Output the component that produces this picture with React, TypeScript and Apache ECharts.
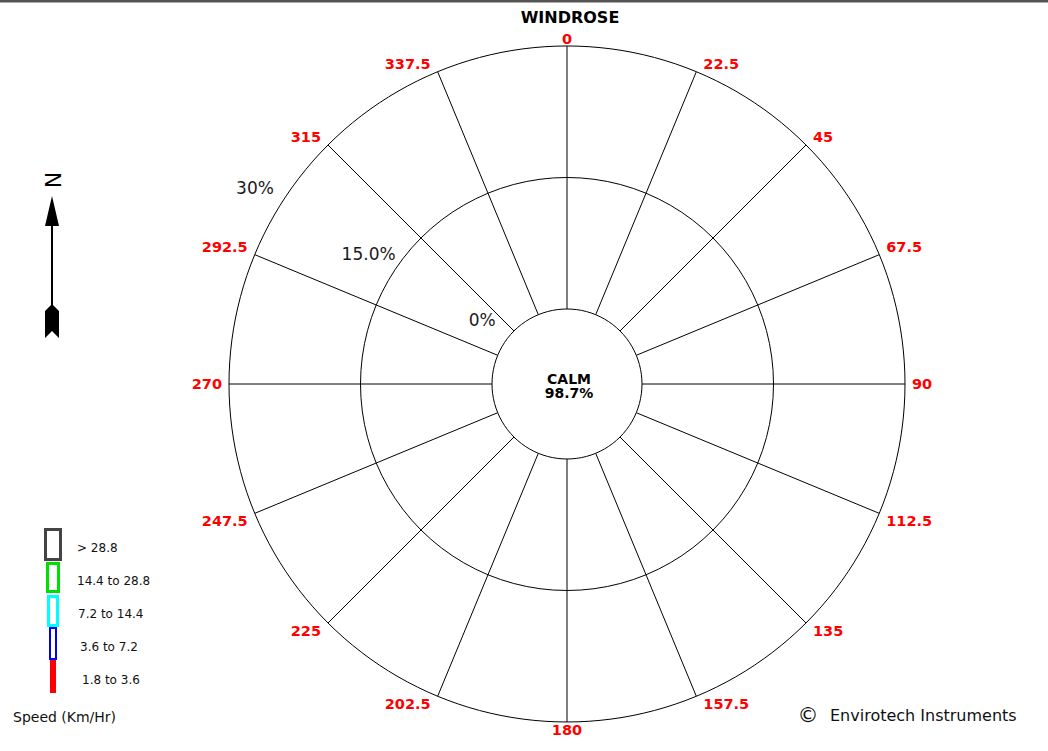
import React, { useEffect, useRef } from "react";
import * as echarts from "echarts";

// ---------- data ----------
const chartTitle = "WINDROSE";
const directions = ["0", "22.5", "45", "67.5", "90", "112.5", "135", "157.5", "180", "202.5", "225", "247.5", "270", "292.5", "315", "337.5"];
const radiusTicks = [0, 15, 30];
const radiusTickLabels = ["0%", "15.0%", "30%"];
const calmLabel = "CALM";
const calmPercent = 98.7;

const speedBins = ["1.8 to 3.6", "3.6 to 7.2", "7.2 to 14.4", "14.4 to 28.8", "> 28.8"];
const speedColors = ["#ff0000", "#0000ff", "#00ffff", "#00e000", "#444444"];
// frequencies (%) per direction for each speed class – none visible in the picture
const freq_1_8_to_3_6 = [0, 0, 0, 0, 0, 0, 0, 0, 0, 0, 0, 0, 0, 0, 0, 0];
const freq_3_6_to_7_2 = [0, 0, 0, 0, 0, 0, 0, 0, 0, 0, 0, 0, 0, 0, 0, 0];
const freq_7_2_to_14_4 = [0, 0, 0, 0, 0, 0, 0, 0, 0, 0, 0, 0, 0, 0, 0, 0];
const freq_14_4_to_28_8 = [0, 0, 0, 0, 0, 0, 0, 0, 0, 0, 0, 0, 0, 0, 0, 0];
const freq_above_28_8 = [0, 0, 0, 0, 0, 0, 0, 0, 0, 0, 0, 0, 0, 0, 0, 0];
const speedSeries = [freq_1_8_to_3_6, freq_3_6_to_7_2, freq_7_2_to_14_4, freq_14_4_to_28_8, freq_above_28_8];

const speedUnit = "Speed (Km/Hr)";
const northLabel = "N";
const creditText = "Envirotech Instruments";

// ---------- layout (style only) ----------
const CX = 567;
const CY = 384;
const R_IN = 75;
const R_OUT = 338;
const FONT = "DejaVu Sans";

// legend rows, drawn top (> 28.8) to bottom (1.8 to 3.6)
const legendBoxes = [
  { x: 45.5, y: 529.5, w: 15, h: 30, lw: 3, tx: 77 },
  { x: 47.5, y: 563.5, w: 11, h: 28, lw: 3, tx: 77 },
  { x: 48.5, y: 596.5, w: 9, h: 29, lw: 3, tx: 78 },
  { x: 50, y: 628, w: 6, h: 31, lw: 2, tx: 80 },
  { x: 50, y: 660, w: 6, h: 33, lw: 0, tx: 82 },
];

function buildOption(): any {
  const series = speedSeries.map((d, i) => ({
    type: "bar",
    name: speedBins[i],
    coordinateSystem: "polar",
    polarIndex: 0,
    stack: "wind",
    data: d,
    itemStyle: { color: speedColors[i] },
  }));

  const legendEls: any[] = [];
  const order = [4, 3, 2, 1, 0];
  order.forEach((idx, row) => {
    const b = legendBoxes[row];
    const solid = b.lw === 0;
    legendEls.push({
      type: "rect",
      shape: { x: b.x, y: b.y, width: b.w, height: b.h },
      style: solid
        ? { fill: speedColors[idx] }
        : { fill: "#ffffff", stroke: speedColors[idx], lineWidth: b.lw },
    });
    legendEls.push({
      type: "text",
      x: b.tx,
      y: 548 + 33 * row,
      style: {
        text: speedBins[idx],
        fontFamily: FONT,
        fontSize: 12,
        fill: "#111",
        align: "left",
        verticalAlign: "middle",
      },
    });
  });

  return {
    animation: false,
    backgroundColor: "#ffffff",
    polar: [
      { center: [CX, CY], radius: [R_IN, R_OUT] },
      { center: [CX, CY], radius: [R_IN, R_OUT] },
    ],
    angleAxis: [
      {
        polarIndex: 0,
        type: "category",
        data: directions,
        startAngle: 90,
        clockwise: true,
        boundaryGap: false,
        axisLine: { show: false },
        axisTick: { show: false },
        splitLine: { show: true, lineStyle: { color: "#000", width: 1 } },
        axisLabel: {
          show: true,
          interval: 0,
          color: "#ff0000",
          fontWeight: "bold",
          fontFamily: FONT,
          fontSize: 14.5,
          margin: 0,
          padding: [0, 7, 0, 7],
        },
      },
      {
        polarIndex: 1,
        type: "value",
        min: 0,
        max: 360,
        startAngle: 149.8,
        axisLine: { show: false },
        axisTick: { show: false },
        axisLabel: { show: false },
        splitLine: { show: false },
      },
    ],
    radiusAxis: [
      {
        polarIndex: 0,
        type: "value",
        min: radiusTicks[0],
        max: radiusTicks[radiusTicks.length - 1],
        interval: radiusTicks[1] - radiusTicks[0],
        axisLine: { show: false },
        axisTick: { show: false },
        axisLabel: { show: false },
        splitLine: { show: false },
      },
      {
        polarIndex: 1,
        type: "value",
        min: radiusTicks[0],
        max: radiusTicks[radiusTicks.length - 1],
        interval: radiusTicks[1] - radiusTicks[0],
        axisLine: { show: false },
        axisTick: { show: false },
        splitLine: { show: true, lineStyle: { color: "#000", width: 1 } },
        axisLabel: {
          show: true,
          showMinLabel: true,
          showMaxLabel: true,
          formatter: (v: number) => radiusTickLabels[radiusTicks.indexOf(v)] ?? "",
          fontFamily: FONT,
          fontSize: 17,
          color: "#1a1a1a",
          align: "center",
          verticalAlign: "middle",
          margin: -30,
          padding: [0, 70, 0, 0],
        },
      },
    ],
    series,
    graphic: [
      // top border
      { type: "rect", shape: { x: 0, y: 0, width: 1048, height: 2 }, style: { fill: "#555" } },
      { type: "rect", shape: { x: 0, y: 2, width: 1048, height: 1 }, style: { fill: "#aaa" } },
      // title
      {
        type: "text",
        x: 570,
        y: 17,
        style: {
          text: chartTitle,
          fontFamily: FONT,
          fontWeight: "bold",
          fontSize: 16,
          fill: "#000",
          align: "center",
          verticalAlign: "middle",
        },
      },
      // calm
      {
        type: "text",
        x: 569,
        y: 386,
        style: {
          text: `${calmLabel}\n${calmPercent.toFixed(1)}%`,
          fontFamily: FONT,
          fontWeight: "bold",
          fontSize: 14,
          lineHeight: 14,
          fill: "#000",
          align: "center",
          verticalAlign: "middle",
        },
      },
      // north arrow
      {
        type: "text",
        x: 52,
        y: 180,
        rotation: -Math.PI / 2,
        style: {
          text: northLabel,
          fontFamily: FONT,
          fontSize: 22,
          fill: "#000",
          align: "center",
          verticalAlign: "middle",
        },
      },
      { type: "polygon", shape: { points: [[52, 196], [59, 226], [45, 226]] }, style: { fill: "#000" } },
      { type: "line", shape: { x1: 52, y1: 225, x2: 52, y2: 306 }, style: { stroke: "#000", lineWidth: 2 } },
      {
        type: "polygon",
        shape: { points: [[52, 304], [59, 311], [59, 338], [52, 331], [45, 338], [45, 311]] },
        style: { fill: "#000" },
      },
      // legend
      ...legendEls,
      {
        type: "text",
        x: 13,
        y: 717,
        style: {
          text: speedUnit,
          fontFamily: FONT,
          fontSize: 14,
          fill: "#111",
          align: "left",
          verticalAlign: "middle",
        },
      },
      // credit
      {
        type: "text",
        x: 808,
        y: 715,
        style: {
          text: "\u00A9",
          fontFamily: FONT,
          fontSize: 21,
          fill: "#111",
          align: "center",
          verticalAlign: "middle",
        },
      },
      {
        type: "text",
        x: 830,
        y: 715,
        style: {
          text: creditText,
          fontFamily: FONT,
          fontSize: 16,
          fill: "#111",
          align: "left",
          verticalAlign: "middle",
        },
      },
    ],
  };
}

export default function App() {
  const ref = useRef<HTMLDivElement>(null);
  useEffect(() => {
    if (!ref.current) return;
    const chart = echarts.init(ref.current, undefined, { renderer: "svg" });
    chart.setOption(buildOption());
    return () => chart.dispose();
  }, []);
  return (
    <div
      ref={ref}
      style={{ position: "fixed", left: 0, top: 0, width: 1048, height: 751, background: "#fff" }}
    />
  );
}
